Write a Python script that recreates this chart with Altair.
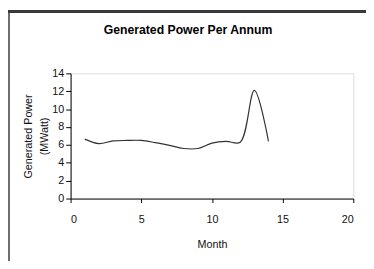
import altair as alt
import pandas as pd

months = [1, 2, 3, 4, 5, 6, 7, 8, 9, 10, 11, 12, 13, 14]
power = [6.65, 6.15, 6.45, 6.5, 6.5, 6.25, 5.95, 5.6, 5.6, 6.2, 6.4, 6.3, 12.1, 6.4]
x_ticks = [0, 5, 10, 15, 20]
y_ticks = [0, 2, 4, 6, 8, 10, 12, 14]
chart_title = "Generated Power Per Annum"

df = pd.DataFrame({"Month": months, "Power": power})

FONT = "Liberation Sans"

line = alt.Chart(df).mark_line(
    interpolate="catmull-rom", color="#333333", strokeWidth=1.2
).encode(
    x=alt.X(
        "Month:Q",
        scale=alt.Scale(domain=[0, 20], nice=False),
        axis=alt.Axis(
            values=x_ticks, title="Month", grid=False, tickSize=4,
            labelPadding=11, titlePadding=15,
            domainColor="black", tickColor="black",
            labelFont=FONT, labelFontSize=11, labelColor="#111111",
            titleFont=FONT, titleFontSize=11, titleFontWeight="normal", titleColor="#111111",
        ),
    ),
    y=alt.Y(
        "Power:Q",
        scale=alt.Scale(domain=[0, 14], nice=False),
        axis=alt.Axis(
            values=y_ticks, title=["Generated Power", "(MWatt)"], grid=False,
            tickSize=5, labelPadding=2,
            domainColor="black", tickColor="black",
            labelFont=FONT, labelFontSize=11, labelColor="#111111",
            titleFont=FONT, titleFontSize=11, titleFontWeight="normal", titleColor="#111111",
            titleX=-40, titleLineHeight=16, titleBaseline="alphabetic",
        ),
    ),
)

title_text = alt.Chart(pd.DataFrame({"t": [chart_title]})).mark_text(
    font="Liberation Sans", fontSize=12.5, fontWeight="bold",
    color="black", align="center", baseline="alphabetic",
).encode(text="t:N", x=alt.value(120), y=alt.value(-40))

border_left = alt.Chart(df).mark_rule(color="#6e6e6e", strokeWidth=2).encode(
    x=alt.value(-63), y=alt.value(-64), y2=alt.value(200)
)
border_top = alt.Chart(df).mark_rule(color="#3a3a3a", strokeWidth=2).encode(
    x=alt.value(-64), x2=alt.value(320), y=alt.value(-63)
)

chart = alt.layer(border_left, border_top, title_text, line).properties(
    width=289,
    height=128,
    autosize=alt.AutoSizeParams(type="none"),
    padding={"left": 64, "top": 64, "right": 13, "bottom": 61},
).configure_view(stroke=None).configure(background="white")

chart.save("out.html", embed_options={"renderer": "svg", "actions": False})
